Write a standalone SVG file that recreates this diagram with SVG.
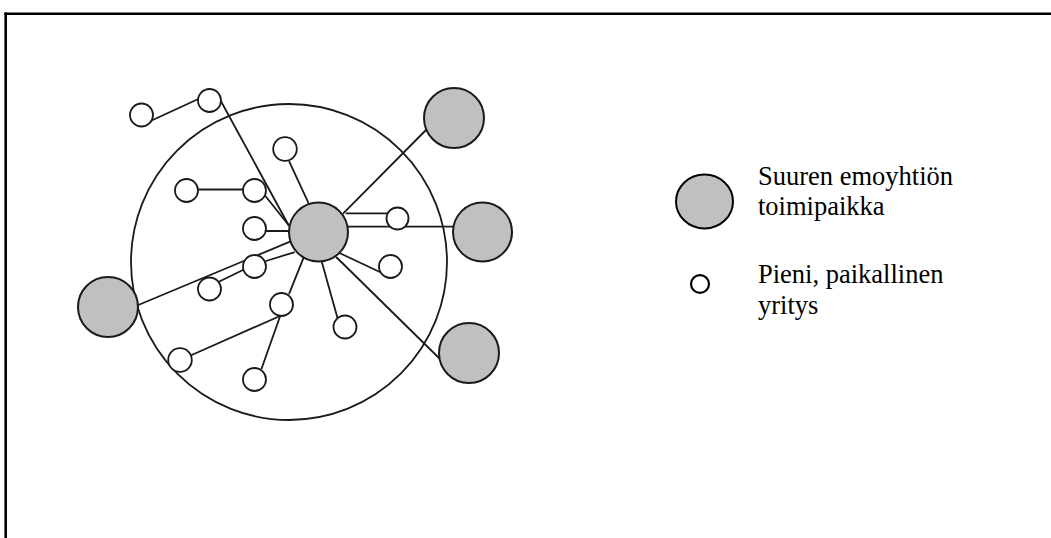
<svg xmlns="http://www.w3.org/2000/svg" width="1051" height="538" viewBox="0 0 1051 538">
<style>
.frame{stroke:#000;stroke-width:2.6;fill:none}
.ring{fill:none;stroke:#1a1a1a;stroke-width:1.8}
.edge{stroke:#1a1a1a;stroke-width:1.8;fill:none;stroke-linecap:round}
.big{fill:#c0c0c0;stroke:#1a1a1a;stroke-width:2}
.small{fill:#fff;stroke:#1a1a1a;stroke-width:1.8}
.lbig{fill:#c0c0c0;stroke:#000;stroke-width:2}
.lsmall{fill:#fff;stroke:#000;stroke-width:2.2}
.t{font-family:"Liberation Serif","Times New Roman",serif;font-size:26.5px;fill:#000}
</style>
<g id="frame">
<line class="frame" x1="4.4" y1="13.8" x2="1051" y2="13.8"/>
<line class="frame" x1="5.7" y1="12.5" x2="5.7" y2="538"/>
</g>
<g id="region">
<circle class="ring" cx="289" cy="262" r="158"/>
</g>
<g id="connectors">
<line class="edge" x1="152.7" y1="120" x2="198.3" y2="99"/>
<line class="edge" x1="220.7" y1="100.7" x2="288.5" y2="225"/>
<line class="edge" x1="289.3" y1="161.7" x2="308.3" y2="202.7"/>
<line class="edge" x1="198.3" y1="189.5" x2="242.7" y2="189.5"/>
<line class="edge" x1="265" y1="195.5" x2="288.5" y2="225"/>
<line class="edge" x1="266" y1="231" x2="289.3" y2="231"/>
<line class="edge" x1="138.3" y1="305" x2="290" y2="241.7"/>
<line class="edge" x1="266" y1="261" x2="294" y2="252.3"/>
<line class="edge" x1="218.3" y1="282" x2="245" y2="269"/>
<line class="edge" x1="289.3" y1="293.3" x2="303.3" y2="258.3"/>
<line class="edge" x1="191.7" y1="355" x2="279.5" y2="316.2"/>
<line class="edge" x1="261.7" y1="368.3" x2="280" y2="316.5"/>
<line class="edge" x1="321.7" y1="261.5" x2="340" y2="327"/>
<line class="edge" x1="336.7" y1="257.5" x2="441" y2="360"/>
<line class="edge" x1="340" y1="253.3" x2="379.3" y2="271.7"/>
<line class="edge" x1="343.3" y1="213.3" x2="426" y2="130"/>
<line class="edge" x1="346.5" y1="213.3" x2="387.3" y2="213.3"/>
<line class="edge" x1="347.5" y1="226.7" x2="453" y2="226.7"/>
</g>
<g id="hub"><circle class="big" cx="318.5" cy="232" r="29.5"/></g>
<g id="hq-top-right"><circle class="big" cx="454" cy="118" r="30"/></g>
<g id="hq-right"><circle class="big" cx="482.5" cy="232" r="29.5"/></g>
<g id="hq-bottom-right"><circle class="big" cx="469" cy="353" r="30"/></g>
<g id="hq-left"><circle class="big" cx="108" cy="307" r="30"/></g>
<g id="firm-a"><circle class="small" cx="141.5" cy="115" r="11.5"/></g>
<g id="firm-b"><circle class="small" cx="209.5" cy="100.5" r="11.5"/></g>
<g id="firm-c"><circle class="small" cx="285" cy="149" r="11.8"/></g>
<g id="firm-d"><circle class="small" cx="186.5" cy="190.5" r="11.5"/></g>
<g id="firm-e"><circle class="small" cx="254.5" cy="190.5" r="11.5"/></g>
<g id="firm-f"><circle class="small" cx="254.5" cy="228.5" r="11.5"/></g>
<g id="firm-g"><circle class="small" cx="254.5" cy="266.5" r="11.5"/></g>
<g id="firm-h"><circle class="small" cx="209.5" cy="289" r="11.5"/></g>
<g id="firm-i"><circle class="small" cx="281.5" cy="304.5" r="11.5"/></g>
<g id="firm-j"><circle class="small" cx="345" cy="327" r="11.5"/></g>
<g id="firm-k"><circle class="small" cx="180" cy="360" r="11.8"/></g>
<g id="firm-l"><circle class="small" cx="254.5" cy="379.5" r="11.5"/></g>
<g id="firm-m"><circle class="small" cx="397.5" cy="218.5" r="11"/></g>
<g id="firm-n"><circle class="small" cx="390.5" cy="266.5" r="11.5"/></g>
<g id="legend-hq">
<ellipse class="lbig" cx="704.5" cy="201.5" rx="28.5" ry="27"/>
<text class="t" x="758" y="185">Suuren emoyhtiön</text>
<text class="t" x="758" y="215">toimipaikka</text>
</g>
<g id="legend-firm">
<ellipse class="lsmall" cx="700" cy="284" rx="9" ry="8.8"/>
<text class="t" x="758" y="283">Pieni, paikallinen</text>
<text class="t" x="758" y="314">yritys</text>
</g>
</svg>
